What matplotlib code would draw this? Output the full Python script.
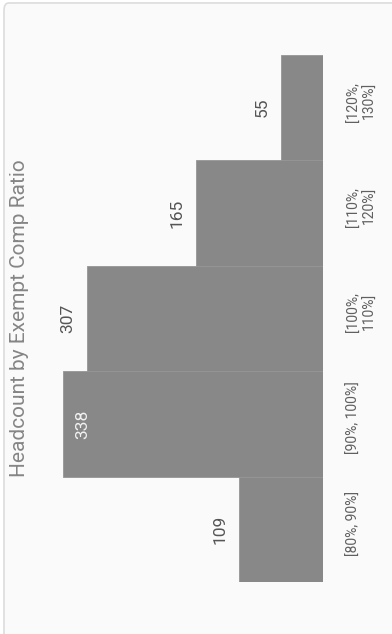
import matplotlib.pyplot as plt
from matplotlib.patches import FancyBboxPatch
from matplotlib.transforms import ScaledTranslation

# headcount per comp-ratio band
bands = ['[80%, 90%]', '[90%, 100%]', '[100%,\n110%]', '[110%,\n120%]', '[120%,\n130%]']
headcount = [109, 338, 307, 165, 55]

title = 'Headcount by Exempt Comp Ratio'
bar_color = '#888888'
label_font = ['Liberation Sans Narrow', 'Roboto', 'DejaVu Sans']

fig = plt.figure(figsize=(3.92, 6.34), dpi=100)
fig.patch.set_facecolor('white')

# rounded card behind the chart
card = FancyBboxPatch((4 / 392, -0.05), 1.2, 0.05 + 631 / 634,
                      boxstyle='round,pad=0,rounding_size=0.012',
                      transform=fig.transFigure, facecolor='#fafafa',
                      edgecolor='#dcdcdc', linewidth=1.2, zorder=-5)
fig.patches.append(card)

ax = fig.add_axes([30 / 392, 52 / 634, 293 / 392, 527 / 634])
ax.set_facecolor('none')
ax.set_zorder(2)

pos = list(range(len(bands)))
ax.barh(pos, headcount, height=1.0, color=bar_color,
        edgecolor='#959595', linewidth=0.6)

ax.set_xlim(381, 0)
ax.set_ylim(-0.5, len(bands) - 0.5)

# value labels sit just past the bar end, or inside it when there is no room
for p, v in zip(pos, headcount):
    if v > 320:
        ax.annotate(str(v), (v, p), xytext=(20, 0), textcoords='offset pixels',
                    rotation=90, ha='center', va='center', fontsize=12.5,
                    color='#f2f2f2', family=label_font)
    else:
        ax.annotate(str(v), (v, p), xytext=(-19, 0), textcoords='offset pixels',
                    rotation=90, ha='center', va='center', fontsize=12.5,
                    color='#555555', family=label_font)

ax.yaxis.tick_right()
ax.set_yticks(pos)
ax.set_yticklabels(bands, rotation=90, va='center', ha='left',
                   multialignment='right', fontsize=10, color='#5f5f5f',
                   family=label_font)
ax.tick_params(axis='y', length=0, pad=17)
shift = ScaledTranslation(0, 6 / 100, fig.dpi_scale_trans)
for lab in ax.get_yticklabels():
    lab.set_transform(lab.get_transform() + shift)

ax.set_xticks([])
for s in ax.spines.values():
    s.set_visible(False)

fig.text(20 / 392, 1 - 318 / 634, title, rotation=90, ha='center', va='center',
         fontsize=15, color='#858585', family=['Roboto', 'DejaVu Sans'])

fig.savefig('out.png', dpi=100)
